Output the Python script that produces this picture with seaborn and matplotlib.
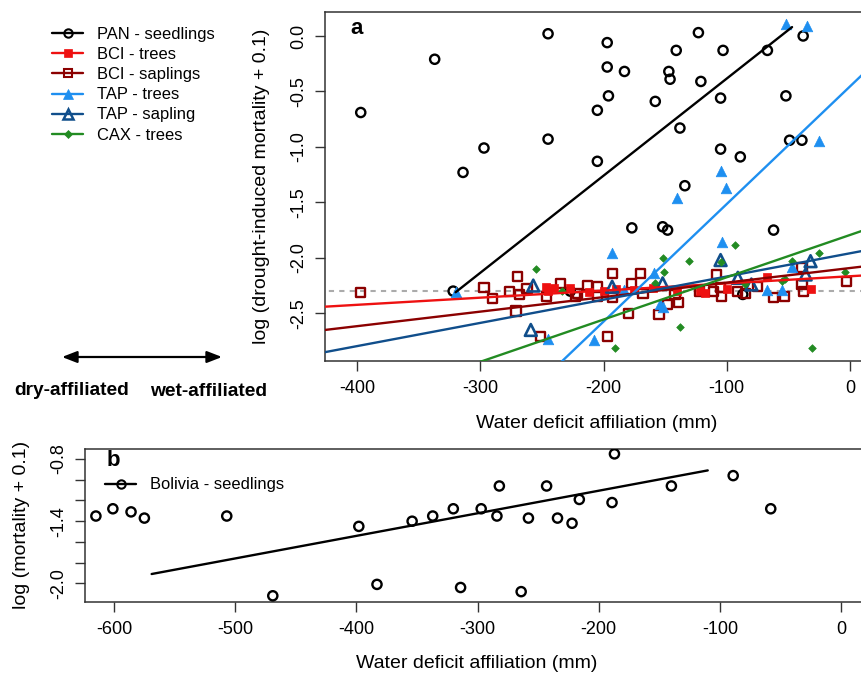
import numpy as np
import pandas as pd
import matplotlib
matplotlib.use("Agg")
import matplotlib.pyplot as plt
import seaborn as sns
from matplotlib.lines import Line2D

# ---------------- data: panel a ----------------
pan_x = [-397, -337, -245, -314, -297, -245, -205, -205, -197, -197, -183, -147,
         -146, -196, -158, -123, -141, -103, -121, -105, -67, -38, -52, -138,
         -105, -89, -49, -39, -134, -177, -152, -148, -62, -322, -227, -87]
pan_y = [-0.69, -0.21, 0.02, -1.23, -1.01, -0.93, -0.67, -1.13, -0.06, -0.28, -0.32, -0.32,
         -0.39, -0.54, -0.59, 0.03, -0.13, -0.13, -0.41, -0.56, -0.13, 0.00, -0.54, -0.83,
         -1.02, -1.09, -0.94, -0.94, -1.35, -1.73, -1.72, -1.75, -1.75, -2.30, -2.30, -2.33]

bcit_x = [-247, -245, -240, -212, -200, -190, -175, -160, -140, -122, -118, -100, -67, -32, -227]
bcit_y = [-2.26, -2.30, -2.27, -2.31, -2.30, -2.28, -2.29, -2.27, -2.30, -2.30, -2.32, -2.28,
          -2.17, -2.28, -2.27]

bcis_x = [-397, -297, -290, -276, -270, -268, -271, -262, -251, -246, -235, -223, -221, -213,
          -205, -205, -193, -170, -177, -180, -197, -155, -148, -139, -142, -168, -193, -122,
          -108, -111, -105, -104, -91, -85, -75, -62, -53, -39, -39, -38, -3]
bcis_y = [-2.31, -2.27, -2.37, -2.30, -2.17, -2.33, -2.48, -2.28, -2.71, -2.35, -2.23, -2.35,
          -2.32, -2.25, -2.26, -2.35, -2.14, -2.14, -2.23, -2.50, -2.71, -2.51, -2.42, -2.40,
          -2.33, -2.32, -2.36, -2.30, -2.15, -2.30, -2.27, -2.35, -2.30, -2.32, -2.26, -2.36,
          -2.35, -2.09, -2.24, -2.30, -2.21]

tapt_x = [-320, -52, -35, -25, -105, -101, -140, -104, -193, -159, -183, -154, -152, -208,
          -245, -47, -67, -55]
tapt_y = [-2.31, 0.11, 0.09, -0.95, -1.22, -1.37, -1.46, -1.86, -1.96, -2.14, -2.29, -2.42,
          -2.44, -2.74, -2.73, -2.08, -2.29, -2.29]

taps_x = [-257, -259, -193, -152, -105, -91, -80, -32, -36]
taps_y = [-2.25, -2.65, -2.26, -2.23, -2.02, -2.18, -2.24, -2.03, -2.15]

cax_x = [-255, -234, -152, -131, -151, -158, -138, -191, -93, -105, -47, -25, -85, -55, -53,
         -4, -31]
cax_y = [-2.10, -2.30, -2.00, -2.03, -2.13, -2.23, -2.62, -2.81, -1.88, -2.04, -2.03, -1.96,
         -2.24, -2.21, -2.19, -2.13, -2.81]

series_names = ["PAN - seedlings", "BCI - trees", "BCI - saplings",
                "TAP - trees", "TAP - sapling", "CAX - trees"]
series_colors = ["#000000", "#EE1111", "#8B0000", "#1E8FF0", "#104E8B", "#228B22"]

# fitted lines: intercept (at x=0), slope, x range
fit_intercept = [0.4915, -2.166, -2.092, -0.455, -1.959, -1.794]
fit_slope = [0.008755, 0.000644, 0.00131, 0.0106, 0.002092, 0.003811]
fit_xmin = [-320, -440, -440, -440, -440, -440]
fit_xmax = [-47, 40, 40, 40, 40, 40]
ref_level = np.log(0.1)

# ---------------- data: panel b ----------------
bol_x = [-615, -601, -586, -575, -507, -469, -398, -383, -354, -337, -320, -314, -297,
         -284, -282, -264, -258, -243, -234, -222, -216, -189, -187, -140, -89, -58]
bol_y = [-1.35, -1.28, -1.31, -1.37, -1.35, -2.12, -1.45, -2.01, -1.40, -1.35, -1.28, -2.04,
         -1.28, -1.35, -1.06, -2.08, -1.37, -1.06, -1.37, -1.42, -1.19, -1.22, -0.75, -1.06,
         -0.96, -1.28]
bol_intercept = -0.670
bol_slope = 0.002179
bol_xmin, bol_xmax = -569, -110

xticks_a = [-400, -300, -200, -100, 0]
yticks_a = [0.0, -0.5, -1.0, -1.5, -2.0, -2.5]
ytick_labels_a = ["0.0", "-0.5", "-1.0", "-1.5", "-2.0", "-2.5"]
xticks_b = [-600, -500, -400, -300, -200, -100, 0]
yticks_b = [-0.8, -1.0, -1.2, -1.4, -1.6, -1.8, -2.0]
ytick_labels_b = ["-0.8", "", "", "-1.4", "", "", "-2.0"]

# ---------------- style ----------------
sns.set_style("ticks")
plt.rcParams['font.family'] = ['Liberation Sans', 'DejaVu Sans']
plt.rcParams['axes.unicode_minus'] = False
plt.rcParams['text.color'] = 'black'
plt.rcParams['axes.labelcolor'] = 'black'

W, H = 861, 673
fig = plt.figure(figsize=(W / 100, H / 100), dpi=100)


def fx(px):
    return px / W


def fy(py):
    return 1 - py / H


def axes_px(l, t, r, b):
    return fig.add_axes([l / W, 1 - b / H, (r - l) / W, (b - t) / H])


axA = axes_px(325, 12, 875, 361)
axB = axes_px(85, 449, 865, 602)

for ax in (axA, axB):
    for s in ax.spines.values():
        s.set_color("#333333")
        s.set_linewidth(1.1)
    ax.tick_params(direction="out", length=7, width=1, labelsize=13, color="#333333",
                   labelcolor="black")
    ax.tick_params(axis="x", pad=7)
    ax.tick_params(axis="y", pad=6)

# ---- panel a points ----
ms_open = 44
sns.scatterplot(x=pan_x, y=pan_y, ax=axA, marker="o", s=ms_open, facecolor="none",
                edgecolor=series_colors[0], linewidth=1.7, zorder=3)
sns.scatterplot(x=bcis_x, y=bcis_y, ax=axA, marker="s", s=ms_open, facecolor="none",
                edgecolor=series_colors[2], linewidth=1.7, zorder=3)
sns.scatterplot(x=bcit_x, y=bcit_y, ax=axA, marker="s", s=28, color=series_colors[1],
                edgecolor=series_colors[1], linewidth=0.5, zorder=3)
sns.scatterplot(x=tapt_x, y=tapt_y, ax=axA, marker="^", s=58, color=series_colors[3],
                edgecolor=series_colors[3], linewidth=0.5, zorder=4)
sns.scatterplot(x=taps_x, y=taps_y, ax=axA, marker="^", s=72, facecolor="none",
                edgecolor=series_colors[4], linewidth=1.9, zorder=4)
sns.scatterplot(x=cax_x, y=cax_y, ax=axA, marker="D", s=15, color=series_colors[5],
                edgecolor=series_colors[5], linewidth=0.5, zorder=4)

# reference line at log(0.1)
sns.lineplot(x=[-440, 40], y=[ref_level, ref_level], ax=axA, color="#ABABAB",
             linestyle=(0, (2.5, 2.5)), linewidth=1.5, zorder=2)

# fitted lines
for name, c, b0, b1, x0, x1 in zip(series_names, series_colors, fit_intercept, fit_slope,
                                   fit_xmin, fit_xmax):
    xs = np.array([x0, x1], dtype=float)
    sns.lineplot(x=xs, y=b0 + b1 * xs, ax=axA, color=c, linewidth=1.7, zorder=5)

axA.set_xlim(-426, 20.3)
axA.set_ylim(-2.93, 0.216)
axA.set_xticks(xticks_a)
axA.set_xticklabels([str(v) for v in xticks_a])
axA.set_yticks(yticks_a)
axA.set_yticklabels(ytick_labels_a, rotation=90, va="center")
axA.set_xlabel("")
axA.set_ylabel("")
axA.text(0.058, 0.953, "a", transform=axA.transAxes, fontsize=16, fontweight="bold",
         ha="center", va="center", color="black")

# legend panel a
markers = ["o", "s", "s", "^", "^", "D"]
mfcs = ["none", series_colors[1], "none", series_colors[3], "none", series_colors[5]]
msz = [6, 5.5, 6, 7, 7.5, 3.8]
mew = [1.5, 0.5, 1.5, 0.5, 1.8, 0.5]
handles = [Line2D([0], [0], color=c, lw=1.7, marker=m, markersize=sz, markerfacecolor=fc,
                  markeredgecolor=c, markeredgewidth=ew)
           for c, m, fc, sz, ew in zip(series_colors, markers, mfcs, msz, mew)]
fig.legend(handles=handles, labels=series_names, loc="upper left",
           bbox_to_anchor=(fx(52), fy(27)), frameon=False, fontsize=11.9,
           handlelength=1.9, handletextpad=0.85, labelspacing=0.31, borderpad=0,
           borderaxespad=0)

fig.text(fx(597), fy(423), "Water deficit affiliation (mm)", fontsize=14,
         ha="center", va="center")
fig.text(fx(262), fy(186), "log (drought-induced mortality + 0.1)", fontsize=14,
         ha="center", va="center", rotation=90)

# arrow + affiliation labels
fig.add_artist(matplotlib.patches.FancyArrowPatch(
    (fx(62), fy(357)), (fx(222), fy(357)), transform=fig.transFigure,
    arrowstyle="<|-|>,head_length=9,head_width=3.5", color="black", lw=1.6,
    shrinkA=0, shrinkB=0))
fig.text(fx(72), fy(390), "dry-affiliated", fontsize=13.8, fontweight="bold",
         ha="center", va="center")
fig.text(fx(209), fy(391), "wet-affiliated", fontsize=13.8, fontweight="bold",
         ha="center", va="center")

# ---- panel b ----
sns.scatterplot(x=bol_x, y=bol_y, ax=axB, marker="o", s=ms_open, facecolor="none",
                edgecolor="black", linewidth=1.7, zorder=3)
xs_b = np.array([bol_xmin, bol_xmax], dtype=float)
sns.lineplot(x=xs_b, y=bol_intercept + bol_slope * xs_b, ax=axB, color="black",
             linewidth=1.7, zorder=4)
axB.set_xlim(-624, 19.8)
axB.set_ylim(-2.18, -0.703)
axB.set_xticks(xticks_b)
axB.set_xticklabels([str(v) for v in xticks_b])
axB.set_yticks(yticks_b)
axB.set_yticklabels(ytick_labels_b, rotation=90, va="center")
axB.set_xlabel("")
axB.set_ylabel("")
axB.text(fx(113), fy(461), "b", transform=fig.transFigure, fontsize=16,
         fontweight="bold", ha="center", va="center", color="black")
hb = [Line2D([0], [0], color="black", lw=1.7, marker="o", markersize=6,
             markerfacecolor="none", markeredgecolor="black", markeredgewidth=1.5)]
fig.legend(handles=hb, labels=["Bolivia - seedlings"], loc="center left",
           bbox_to_anchor=(fx(105), fy(485)), frameon=False, fontsize=11.9,
           handlelength=1.9, handletextpad=0.85, borderpad=0, borderaxespad=0)

fig.text(fx(477), fy(663), "Water deficit affiliation (mm)", fontsize=14,
         ha="center", va="center")
fig.text(fx(22), fy(525), "log (mortality + 0.1)", fontsize=14,
         ha="center", va="center", rotation=90)

fig.savefig("out.png", dpi=100)
